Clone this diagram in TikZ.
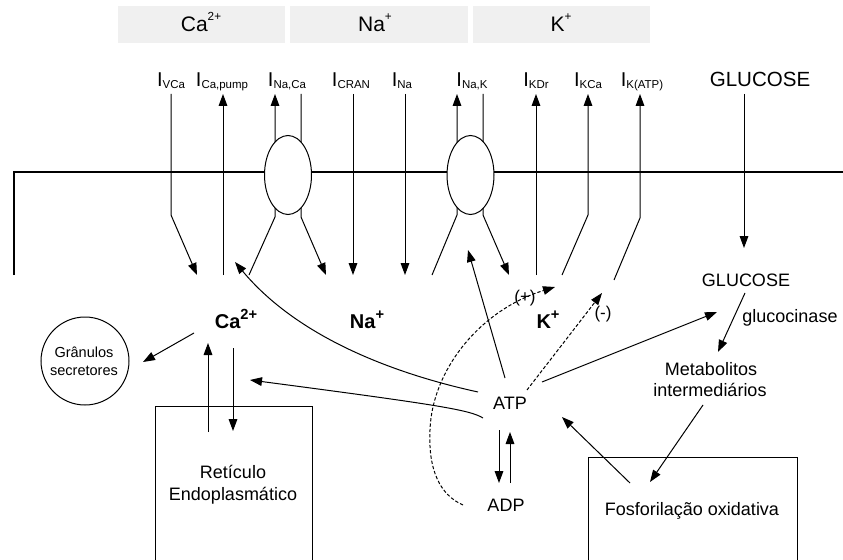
\documentclass[tikz,border=0pt]{standalone}
\usepackage{fontspec}
\setmainfont{Liberation Sans}
\usetikzlibrary{arrows.meta,shapes.geometric}
\definecolor{boxgray}{RGB}{240,240,240}
\newcommand{\fA}{\fontsize{15}{18}\selectfont}
\newcommand{\fB}{\fontsize{13.5}{16}\selectfont}
\newcommand{\fS}{\fontsize{8.6}{10}\selectfont}
\newcommand{\Icur}[1]{\fA I\raisebox{-1.2pt}{\fS #1}}
\begin{document}
\begin{tikzpicture}[x=0.75pt,y=-0.75pt,
  ln/.style={line width=0.75pt},
  tip/.style={-{Triangle[length=9pt,width=6.5pt]}},
  lbl/.style={anchor=base,inner sep=0pt},
  dsh/.style={line width=0.75pt,dash pattern=on 2.5pt off 1.5pt},
  pump/.style={ellipse,draw,fill=white,line width=0.75pt,inner sep=0pt,minimum width=35.25pt,minimum height=59.25pt}]
\useasboundingbox (0,0) rectangle (843,560);
\clip (0,0) rectangle (843,560);
% top gray boxes
\fill[boxgray] (118,6) rectangle (285,43);
\fill[boxgray] (290,6) rectangle (468,43);
\fill[boxgray] (473,6) rectangle (650,43);
\node[lbl] (tca) at (201,32) {\fontsize{15.75}{18}\selectfont Ca\raisebox{8.5pt}{\fontsize{8.8}{10}\selectfont 2+}};
\node[lbl] (tna) at (375,32) {\fontsize{15.75}{18}\selectfont Na\raisebox{8.5pt}{\fontsize{8.8}{10}\selectfont +}};
\node[lbl] (tk) at (561,32) {\fontsize{15.75}{18}\selectfont K\raisebox{8.5pt}{\fontsize{8.8}{10}\selectfont +}};
% current labels
\node[lbl] (vca) at (171,87) {\Icur{VCa}};
\node[lbl] (capump) at (222,87) {\Icur{Ca,pump}};
\node[lbl] (naca) at (287,87) {\Icur{Na,Ca}};
\node[lbl] (cran) at (351,87) {\Icur{CRAN}};
\node[lbl] (ina) at (402,87) {\Icur{Na}};
\node[lbl] (nak) at (472,87) {\Icur{Na,K}};
\node[lbl] (kdr) at (536,87) {\Icur{KDr}};
\node[lbl] (kca) at (588,87) {\Icur{KCa}};
\node[lbl] (katp) at (642,87) {\Icur{K(ATP)}};
\node[lbl] (glctop) at (760,87) {\fontsize{15.4}{18}\selectfont GLUCOSE};
% membrane
\coordinate (m1) at (14,275); \coordinate (m2) at (14,172); \coordinate (m3) at (843,172);
\draw[line width=1.5pt] (m1) -- (m2) -- (m3);
% current lines
\coordinate (vcaT) at (171,94); \coordinate (vcaB) at (171,215); \coordinate (vcaE) at (197,275);
\draw[ln,tip] (vcaT) -- (vcaB) -- (vcaE);
\coordinate (cpT) at (223,94); \coordinate (cpE) at (223,275);
\draw[ln,tip] (cpE) -- (cpT);
\coordinate (ncLT) at (275,94); \coordinate (ncLB) at (275,217); \coordinate (ncLE) at (249,275);
\draw[ln,tip] (ncLE) -- (ncLB) -- (ncLT);
\coordinate (ncRT) at (301,94); \coordinate (ncRB) at (301,217); \coordinate (ncRE) at (326,275);
\draw[ln,tip] (ncRT) -- (ncRB) -- (ncRE);
\coordinate (crT) at (353,94); \coordinate (crE) at (353,275);
\draw[ln,tip] (crT) -- (crE);
\coordinate (naT) at (405,94); \coordinate (naE) at (405,275);
\draw[ln,tip] (naT) -- (naE);
\coordinate (nkLT) at (457,94); \coordinate (nkLB) at (457,215); \coordinate (nkLE) at (432,275);
\draw[ln,tip] (nkLE) -- (nkLB) -- (nkLT);
\coordinate (nkRT) at (483,94); \coordinate (nkRB) at (483,215); \coordinate (nkRE) at (509,275);
\draw[ln,tip] (nkRT) -- (nkRB) -- (nkRE);
\coordinate (kdT) at (536,94); \coordinate (kdE) at (536,275);
\draw[ln,tip] (kdE) -- (kdT);
\coordinate (kcT) at (588,94); \coordinate (kcB) at (588,215); \coordinate (kcE) at (562,275);
\draw[ln,tip] (kcE) -- (kcB) -- (kcT);
\coordinate (kaT) at (640,94); \coordinate (kaB) at (640,218); \coordinate (kaE) at (614,280);
\draw[ln,tip] (kaE) -- (kaB) -- (kaT);
\coordinate (glT) at (744,94); \coordinate (glE) at (744,248);
\draw[ln,tip] (glT) -- (glE);
% pumps
\node[pump] (pump1) at (288,175) {};
\node[pump] (pump2) at (470.5,175) {};
% interior labels
\node[lbl] (cab) at (236,328) {\fA\bfseries Ca\raisebox{6.3pt}{\fontsize{11}{12}\selectfont\bfseries 2+}};
\node[lbl] (nab) at (367,328) {\fA\bfseries Na\raisebox{6.3pt}{\fontsize{11}{12}\selectfont\bfseries +}};
\node[lbl] (kb) at (548,328) {\fA\bfseries K\raisebox{6.3pt}{\fontsize{11}{12}\selectfont\bfseries +}};
\node[lbl] (atp) at (510,409) {\fB ATP};
\node[lbl] (adp) at (506,511) {\fB ADP};
\node[lbl] (glc) at (746,286) {\fB GLUCOSE};
\node[lbl] (gck) at (790,322) {\fB glucocinase};
\node[lbl] (met1) at (711,375) {\fB Metabolitos};
\node[lbl] (met2) at (710,396) {\fB intermediários};
\node[lbl] (fos) at (692,515) {\fB Fosforilação oxidativa};
\node[lbl] (ret1) at (233,478) {\fB Retículo};
\node[lbl] (ret2) at (233,500) {\fB Endoplasmático};
\node[circle,draw,line width=0.75pt,minimum size=66pt,inner sep=0pt] (gran) at (85,361) {};
\node[lbl] (gr1) at (84,357) {\fontsize{10.9}{12}\selectfont Grânulos};
\node[lbl] (gr2) at (84,375) {\fontsize{10.9}{12}\selectfont secretores};
\node[lbl] (plus) at (525,302) {\fontsize{12.75}{14}\selectfont (+)};
\node[lbl] (minus) at (603,318) {\fontsize{12.75}{14}\selectfont (-)};
% boxes (open at the bottom edge)
\coordinate (er1) at (155,565); \coordinate (er2) at (155,406); \coordinate (er3) at (312,406); \coordinate (er4) at (312,565);
\draw[ln] (er1) -- (er2) -- (er3) -- (er4);
\coordinate (fo1) at (588,565); \coordinate (fo2) at (588,457); \coordinate (fo3) at (797,457); \coordinate (fo4) at (797,565);
\draw[ln] (fo1) -- (fo2) -- (fo3) -- (fo4);
% arrows
\coordinate (a1s) at (478,392); \coordinate (a1e) at (235,262);
\draw[ln,tip] (a1s) .. controls (400,375) and (300,340) .. (a1e);
\coordinate (a2s) at (483,418); \coordinate (a2e) at (250,380);
\draw[ln,tip] (a2s) .. controls (470,410) and (440,405) .. (a2e);
\coordinate (a3s) at (505,378); \coordinate (a3e) at (468,250);
\draw[ln,tip] (a3s) -- (a3e);
\coordinate (a4s) at (527,390); \coordinate (a4e) at (602,293);
\draw[dsh,tip] (a4s) -- (a4e);
\coordinate (a5s) at (542,382); \coordinate (a5e) at (717,312);
\draw[ln,tip] (a5s) -- (a5e);
\coordinate (a6s) at (745,293); \coordinate (a6e) at (718,352);
\draw[ln,tip] (a6s) -- (a6e);
\coordinate (a7s) at (703,405); \coordinate (a7e) at (650,482);
\draw[ln,tip] (a7s) -- (a7e);
\coordinate (a8s) at (630,483); \coordinate (a8e) at (562,417);
\draw[ln,tip] (a8s) -- (a8e);
\coordinate (a9s) at (499,430); \coordinate (a9e) at (499,483);
\draw[ln,tip] (a9s) -- (a9e);
\coordinate (a10s) at (510,483); \coordinate (a10e) at (510,432);
\draw[ln,tip] (a10s) -- (a10e);
\coordinate (a11s) at (194,333); \coordinate (a11e) at (143,362);
\draw[ln,tip] (a11s) -- (a11e);
\coordinate (a12s) at (208,432); \coordinate (a12e) at (208,343);
\draw[ln,tip] (a12s) -- (a12e);
\coordinate (a13s) at (233,348); \coordinate (a13e) at (233,431);
\draw[ln,tip] (a13s) -- (a13e);
\coordinate (d1s) at (463,505); \coordinate (d1m) at (430,430); \coordinate (d1e) at (555,287);
\draw[dsh,tip] (d1s) .. controls (440,495) and (428,470) .. (d1m) .. controls (432,370) and (480,310) .. (d1e);
\end{tikzpicture}
\end{document}
